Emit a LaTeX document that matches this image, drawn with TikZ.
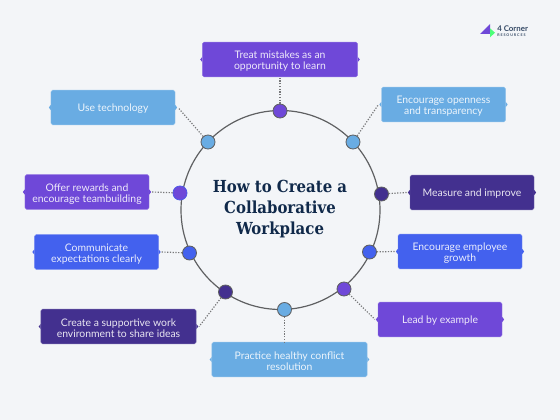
\documentclass[tikz,border=0pt]{standalone}
\usepackage{fontspec}
\setmainfont{Lato}
\newfontfamily\titlefont{DejaVu Serif Condensed}
\newcommand{\uprule}{\rule{0pt}{8.2pt}}
\definecolor{bgcol}{HTML}{F3F5F8}
\definecolor{violetcol}{HTML}{6F48D8}
\definecolor{skycol}{HTML}{69ACE3}
\definecolor{darkcol}{HTML}{43308F}
\definecolor{royalcol}{HTML}{4361EE}
\definecolor{ringcol}{HTML}{5F6062}
\definecolor{titlecol}{HTML}{10294A}
\tikzset{
  tile/.style={rounded corners=1.2pt,fill=#1,draw=#1!75!white,line width=0.3pt,inner sep=0pt,
    minimum width=31mm,minimum height=8.7mm,align=center,text=white!88!#1,
    font=\fontsize{7.4}{7.9}\selectfont,execute at begin node={\rule{0pt}{7pt}}},
  widetile/.style={tile=#1,minimum width=38.8mm},
  dot/.style={circle,fill=#1,draw=ringcol,line width=0.6pt,minimum size=3.5mm,inner sep=0pt},
  link/.style={draw=ringcol!85!white,line width=0.85pt,dash pattern=on 0.85pt off 1.1pt}
}
\begin{document}
\begin{tikzpicture}[x=0.25mm,y=-0.25mm]
        \useasboundingbox (0,0) rectangle (560,420);
        \fill[bgcol] (0,0) rectangle (560,420);
        \draw[ringcol,line width=0.85pt] (280.5,210) circle [radius=99.5];
        \node[titlecol,align=center,font=\titlefont\bfseries\fontsize{11.8}{14.9}\selectfont] (title) at (280,209.5) {How to Create a\\Collaborative\\Workplace};
        \node[dot=violetcol] (d1) at (280,111) {};
        \node[dot=skycol] (d2) at (353,142) {};
        \node[dot=darkcol] (d3) at (381.5,194) {};
        \node[dot=royalcol] (d4) at (369.5,252) {};
        \node[dot=violetcol] (d5) at (344,289) {};
        \node[dot=skycol] (d6) at (284.5,309.5) {};
        \node[dot=darkcol] (d7) at (225.5,292) {};
        \node[dot=royalcol] (d8) at (189.5,253) {};
        \node[circle,fill=violetcol,draw=royalcol!70!violetcol,line width=0.6pt,minimum size=3.5mm,inner sep=0pt] (d9) at (180,193) {};
        \node[dot=skycol] (d10) at (208,142) {};
        \node[widetile=violetcol] (b1) at (280,59.5) {\uprule Treat mistakes as an\\opportunity to learn};
        \node[tile=skycol] (b2) at (443.5,104.5) {\uprule Encourage openness\\and transparency};
        \node[tile=darkcol] (b3) at (472,192.5) {Measure and improve};
        \node[tile=royalcol] (b4) at (460,251.5) {\uprule Encourage employee\\growth};
        \node[tile=violetcol] (b5) at (440,319.5) {Lead by example};
        \node[widetile=skycol] (b6) at (289.5,359.5) {\uprule Practice healthy conflict\\resolution};
        \node[widetile=darkcol] (b7) at (118.5,326.5) {\uprule Create a supportive work\\environment to share ideas};
        \node[tile=royalcol] (b8) at (96.5,252) {\uprule Communicate\\expectations clearly};
        \node[tile=violetcol] (b9) at (87,192) {\uprule Offer rewards and\\encourage teambuilding};
        \node[tile=skycol] (b10) at (113,107.5) {Use technology};
        \foreach \b/\c in {b1/violetcol,b2/skycol,b3/darkcol,b4/royalcol,b5/violetcol,b6/skycol,b7/darkcol,b8/royalcol,b9/violetcol,b10/skycol} {
            \fill[\c] ([xshift=-1.4pt]\b.west) -- ([yshift=1.8pt]\b.west) -- ([yshift=-1.8pt]\b.west) -- cycle;
            \fill[\c] ([xshift=1.4pt]\b.east) -- ([yshift=1.8pt]\b.east) -- ([yshift=-1.8pt]\b.east) -- cycle;
        }
        \draw[link] (d1) -- (b1.south);
        \draw[link] (d2) -- ([xshift=-2pt]b2.west);
        \draw[link] (d3) -- ([xshift=-2pt]b3.west);
        \draw[link] (d4) -- ([xshift=-2pt]b4.west);
        \draw[link] (d5) -- ([xshift=-2pt]b5.west);
        \draw[link] (d6) -- (d6 |- b6.north);
        \draw[link] (d7) -- ([xshift=2pt]b7.east);
        \draw[link] (d8) -- ([xshift=2pt]b8.east);
        \draw[link] (d9) -- ([xshift=2pt]b9.east);
        \draw[link] (d10) -- ([xshift=2pt]b10.east);
        \fill[violetcol] (480,34) -- (490,24) -- (490,34) -- cycle;
        \fill[green!75!cyan!70!white] (490,28.3) -- (495,32.7) -- (490,37.3) -- cycle;
        \node[titlecol!85!white,anchor=west,inner sep=0pt,font=\fontsize{5.6}{5.6}\selectfont\bfseries] (logo) at (497,29) {4 Corner};
        \node[titlecol!85!white,anchor=west,inner sep=0pt,font=\fontsize{2.6}{2.6}\selectfont\bfseries\addfontfeature{LetterSpace=25}] (logosub) at (497,35.3) {RESOURCES};
\end{tikzpicture}
\end{document}
